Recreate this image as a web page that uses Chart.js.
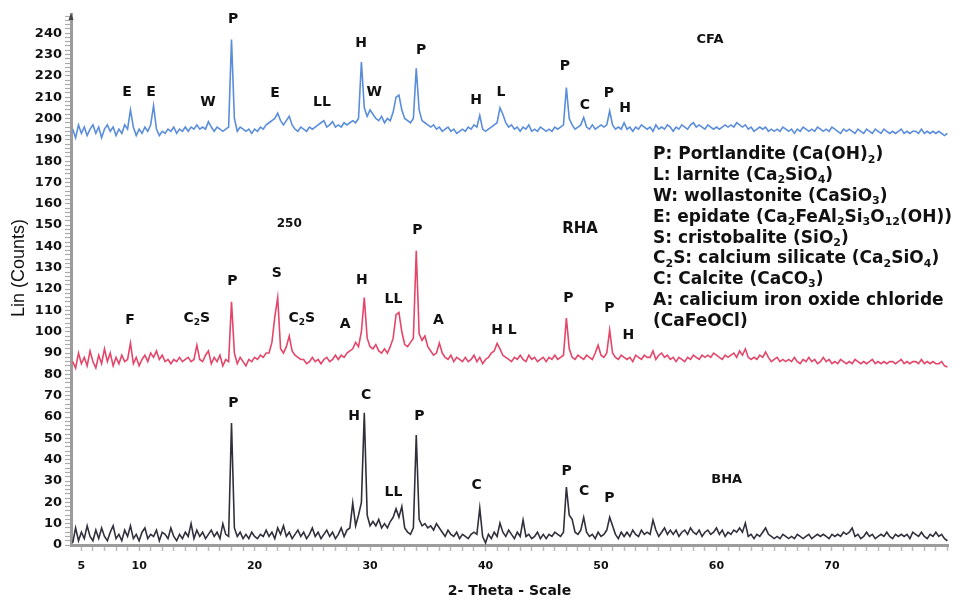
<!DOCTYPE html>
<html>
<head>
<meta charset="utf-8">
<script src="https://cdn.jsdelivr.net/npm/chart.js@4.4.0/dist/chart.umd.min.js"></script>
<style>
  html, body { margin: 0; padding: 0; background: #fff; }
  #wrap { width: 968px; height: 600px; }
</style>
</head>
<body>
<div id="wrap"><canvas id="xrd" width="968" height="600"></canvas></div>
<script>
// scan: 4.25° .. 80° 2-theta, 0.25° step -> one row of 4 readings per degree
const scanStart = 4.25;
const scanStep = 0.25;

const cfaCounts = [
  195, 191, 197, 193,   // 4
  196, 192, 195, 197,   // 5
  193, 196, 191, 195,   // 6
  197, 194, 196, 192,   // 7
  195, 193, 197, 195,   // 8
  204, 196, 192, 195,   // 9
  193, 196, 194, 197,   // 10
  206, 195, 192, 194,   // 11
  193, 195, 194, 196,   // 12
  193, 195, 194, 196,   // 13
  194, 196, 195, 197,   // 14
  195, 196, 195, 198.5, // 15
  196, 194, 196, 195,   // 16
  194, 195, 196, 237,   // 17
  200, 194, 196, 195,   // 18
  194, 195, 193, 195,   // 19
  194, 196, 195, 197,   // 20
  198, 199, 200, 202.5, // 21
  199, 197, 199, 201,   // 22
  197, 195, 194, 196,   // 23
  195, 194, 196, 195,   // 24
  196, 197, 198, 199,   // 25
  196, 197, 198.5, 196, // 26
  197, 196, 198, 197,   // 27
  198, 199, 198, 200,   // 28
  226.5, 205, 201, 204, // 29
  202, 200, 199, 201,   // 30
  198, 200, 199, 203,   // 31
  210, 211, 204, 200,   // 32
  199, 198, 200, 223.5, // 33
  204, 199, 198, 197,   // 34
  196, 197, 195, 196,   // 35
  194, 195, 196, 194,   // 36
  195, 193, 194, 195,   // 37
  194, 196, 195, 197,   // 38
  196, 201.5, 195, 194, // 39
  195, 196, 197, 198,   // 40
  205, 202, 198, 196,   // 41
  197, 195, 196, 194,   // 42
  196, 195, 197, 194,   // 43
  195, 194, 196, 195,   // 44
  194, 195, 194, 196,   // 45
  195, 196, 197, 214.5, // 46
  200, 197, 195, 196,   // 47
  197, 200.5, 196, 195, // 48
  197, 195, 196, 197,   // 49
  196, 197, 203.5, 197, // 50
  195, 196, 195, 198,   // 51
  195, 196, 194, 196,   // 52
  195, 197, 196, 195,   // 53
  196, 194, 197, 195,   // 54
  196, 195, 197, 196,   // 55
  194, 196, 195, 197,   // 56
  196, 195, 197, 198,   // 57
  196, 197, 196, 195,   // 58
  197, 196, 195, 196,   // 59
  195, 196, 197, 196,   // 60
  197, 196, 198, 197,   // 61
  196, 197, 195, 196,   // 62
  194, 195, 196, 195,   // 63
  196, 194, 195, 194,   // 64
  195, 194, 196, 195,   // 65
  194, 195, 193, 195,   // 66
  194, 196, 195, 194,   // 67
  195, 194, 196, 195,   // 68
  194, 195, 194, 196,   // 69
  195, 194, 193, 195,   // 70
  194, 195, 194, 193,   // 71
  195, 194, 193, 195,   // 72
  194, 193, 195, 194,   // 73
  193, 195, 194, 193,   // 74
  194, 193, 194, 195,   // 75
  193, 194, 193, 194,   // 76
  194, 193, 195, 193,   // 77
  194, 193, 194, 193,   // 78
  194, 193, 192, 193    // 79
];

const rhaCounts = [
  86, 83, 90, 85,       // 4
  88, 84, 91, 86,       // 5
  83, 89, 85, 92,       // 6
  86, 90, 84, 88,       // 7
  85, 89, 86, 87,       // 8
  94.7, 85, 88, 84,     // 9
  87, 89, 86, 90,       // 10
  88, 91, 87, 89,       // 11
  86, 87, 85, 87,       // 12
  86, 88, 86, 87,       // 13
  88, 86, 87, 93.7,     // 14
  87, 86, 89, 91,       // 15
  85, 88, 86, 89,       // 16
  84, 87, 86, 114,      // 17
  90, 85, 88, 86,       // 18
  84, 87, 86, 88,       // 19
  87, 89, 88, 90,       // 20
  90, 95, 107, 116,     // 21
  92, 90, 93, 98,       // 22
  91, 89, 88, 87,       // 23
  87, 85, 86, 88,       // 24
  86, 87, 85, 87,       // 25
  88, 86, 87, 89,       // 26
  87, 89, 88, 90,       // 27
  91, 92, 95, 93,       // 28
  100, 116, 97, 93,     // 29
  92, 94, 91, 90,       // 30
  92, 90, 93, 97,       // 31
  108, 109, 100, 94,    // 32
  93, 95, 97, 138,      // 33
  99, 96, 98, 93,       // 34
  91, 89, 90, 94.7,     // 35
  90, 88, 87, 89,       // 36
  86, 88, 87, 86,       // 37
  88, 86, 87, 89,       // 38
  86, 88, 85, 87,       // 39
  88, 90, 91, 94.5,     // 40
  92, 89, 88, 87,       // 41
  86, 88, 87, 89,       // 42
  87, 86, 89, 87,       // 43
  88, 86, 87, 88,       // 44
  86, 88, 87, 89,       // 45
  87, 88, 89, 106.4,    // 46
  92, 88, 87, 89,       // 47
  88, 87, 89, 88,       // 48
  87, 90, 93.7, 89,     // 49
  88, 90, 100.8, 90,    // 50
  88, 87, 89, 88,       // 51
  87, 88, 86, 89,       // 52
  88, 87, 89, 88,       // 53
  88, 91, 87, 89,       // 54
  90, 88, 89, 87,       // 55
  88, 86, 88, 87,       // 56
  86, 88, 87, 89,       // 57
  88, 87, 89, 88,       // 58
  89, 88, 90, 89,       // 59
  88, 87, 89, 88,       // 60
  89, 90, 88, 91,       // 61
  89, 92, 88, 87,       // 62
  88, 87, 89, 88,       // 63
  90.5, 88, 86, 87,     // 64
  88, 86, 87, 86,       // 65
  87, 86, 88, 86,       // 66
  85, 87, 86, 88,       // 67
  86, 87, 85, 86,       // 68
  88, 86, 87, 85,       // 69
  86, 85, 87, 86,       // 70
  85, 86, 85, 87,       // 71
  86, 85, 86, 85,       // 72
  86, 87, 85, 86,       // 73
  85, 86, 85, 86,       // 74
  86, 85, 86, 87,       // 75
  85, 86, 85, 86,       // 76
  86, 85, 87, 85,       // 77
  86, 85, 86, 85,       // 78
  85, 86, 84, 83.5      // 79
];

const bhaCounts = [
  1, 8, 2, 6,           // 4
  3, 9, 4, 2,           // 5
  7, 3, 8, 4,           // 6
  2, 6, 9, 3,           // 7
  5, 2, 7, 4,           // 8
  9, 3, 5, 2,           // 9
  6, 8, 3, 5,           // 10
  4, 7, 2, 6,           // 11
  5, 3, 8, 4,           // 12
  2, 5, 3, 6,           // 13
  4, 10, 3, 7,          // 14
  4, 6, 3, 5,           // 15
  7, 4, 6, 3,           // 16
  10, 5, 4, 57.2,       // 17
  8, 4, 6, 3,           // 18
  5, 3, 6, 4,           // 19
  3, 5, 4, 7,           // 20
  4, 6, 3, 8,           // 21
  5, 9, 4, 6,           // 22
  3, 5, 7, 4,           // 23
  6, 3, 5, 8,           // 24
  4, 6, 3, 5,           // 25
  7, 4, 6, 3,           // 26
  5, 8, 4, 7,           // 27
  8, 19.7, 9, 14,       // 28
  20, 62, 14, 9,        // 29
  11, 9, 12, 8,         // 30
  10, 8, 11, 13,        // 31
  17, 13, 18, 8,        // 32
  6, 5, 8, 51.6,        // 33
  12, 9, 10, 8,         // 34
  9, 7, 10, 8,          // 35
  6, 4, 7, 5,           // 36
  4, 6, 3, 5,           // 37
  4, 3, 5, 6,           // 38
  5, 17.3, 4, 1,        // 39
  5, 3, 6, 4,           // 40
  10.3, 6, 4, 7,        // 41
  5, 3, 6, 4,           // 42
  11.7, 4, 5, 3,        // 43
  4, 6, 3, 5,           // 44
  3, 5, 4, 6,           // 45
  5, 4, 6, 27.2,        // 46
  14, 12, 6, 5,         // 47
  7, 13, 6, 4,          // 48
  5, 3, 6, 4,           // 49
  5, 7, 13, 9,          // 50
  5, 3, 6, 4,           // 51
  6, 4, 7, 5,           // 52
  4, 7, 5, 6,           // 53
  5, 11.7, 7, 4,        // 54
  6, 8, 5, 7,           // 55
  5, 7, 4, 6,           // 56
  7, 5, 8, 6,           // 57
  5, 7, 4, 6,           // 58
  7, 5, 6, 8,           // 59
  5, 7, 4, 6,           // 60
  5, 7, 6, 8,           // 61
  6, 10.3, 4, 5,        // 62
  3, 5, 4, 6,           // 63
  8, 5, 4, 3,           // 64
  4, 3, 5, 4,           // 65
  3, 4, 3, 5,           // 66
  4, 3, 4, 5,           // 67
  3, 4, 5, 4,           // 68
  5, 4, 3, 5,           // 69
  4, 5, 4, 6,           // 70
  5, 6, 8, 4,           // 71
  5, 3, 4, 6,           // 72
  4, 5, 3, 4,           // 73
  5, 4, 6, 4,           // 74
  3, 5, 4, 5,           // 75
  4, 5, 3, 6,           // 76
  5, 4, 6, 4,           // 77
  3, 5, 4, 6,           // 78
  4, 5, 3, 2            // 79
];

const xTickLabels = [5, 10, 20, 30, 40, 50, 60, 70];

// peak letters: [text, 2-theta, counts]  ("_n" = subscript)
const peakLabels = [
  ['P', 18.14, 246.7], ['E', 8.96, 212.4], ['E', 11.04, 212.4], ['W', 15.97, 207.7],
  ['E', 21.78, 212], ['LL', 25.84, 207.7], ['H', 29.22, 235.4], ['W', 30.35, 212.4],
  ['P', 34.42, 232.1], ['H', 39.18, 208.7], ['L', 41.34, 212.4], ['P', 46.88, 224.6],
  ['C', 48.61, 206.3], ['P', 50.69, 212], ['H', 52.08, 204.9],

  ['S', 21.92, 127.4], ['P', 18.08, 123.5], ['P', 34.1, 147.7], ['H', 29.28, 124.3],
  ['LL', 32.02, 115.4], ['F', 9.22, 105.5], ['C_2S', 15.0, 106.3], ['C_2S', 24.09, 106.3],
  ['A', 27.84, 103.6], ['A', 35.91, 105.5], ['H L', 41.6, 100.8], ['P', 47.17, 115.7],
  ['P', 50.72, 111], ['H', 52.36, 98.5],

  ['P', 18.16, 66.4], ['C', 29.65, 70.3], ['H', 28.61, 60.5], ['P', 34.27, 60.2],
  ['LL', 32.02, 24.5], ['C', 39.23, 28.1], ['P', 47.03, 34.4], ['C', 48.53, 25],
  ['P', 50.72, 21.9]
];

// sample names: [text, 2-theta, counts, font px]
const sampleNames = [
  ['CFA', 59.44, 236.8, 13], ['RHA', 48.18, 148, 15], ['BHA', 60.88, 30.5, 13], ['250', 23.0, 150.5, 12]
];

const phaseKey = [
  'P: Portlandite (Ca(OH)_2)',
  'L: larnite (Ca_2SiO_4)',
  'W: wollastonite (CaSiO_3)',
  'E: epidate (Ca_2FeAl_2Si_3O_12(OH))',
  'S: cristobalite (SiO_2)',
  'C_2S: calcium silicate (Ca_2SiO_4)',
  'C: Calcite (CaCO_3)',
  'A: calicium iron oxide chloride',
  '(CaFeOCl)'
];

const toPoints = arr => arr.map((v, i) => ({ x: scanStart + i * scanStep, y: v }));

function drawRich(ctx, text, x, y, size, align) {
  const parts = text.split(/_(\d+)/);
  const big = `bold ${size}px "DejaVu Sans"`;
  const small = `bold ${Math.round(size * 0.62)}px "DejaVu Sans"`;
  let w = 0;
  parts.forEach((p, i) => { ctx.font = i % 2 ? small : big; w += ctx.measureText(p).width; });
  let cx = align === 'center' ? x - w / 2 : x;
  parts.forEach((p, i) => {
    ctx.font = i % 2 ? small : big;
    ctx.fillText(p, cx, y + (i % 2 ? size * 0.28 : 0));
    cx += ctx.measureText(p).width;
  });
}

const annotate = {
  id: 'annotate',
  afterDraw(chart) {
    const { ctx, scales: { x, y }, chartArea } = chart;
    ctx.save();
    ctx.fillStyle = '#111';
    ctx.textBaseline = 'middle';
    ctx.textAlign = 'left';

    peakLabels.forEach(([t, tx, ty]) => {
      drawRich(ctx, t, x.getPixelForValue(tx), y.getPixelForValue(ty), 14, 'center');
    });
    sampleNames.forEach(([t, tx, ty, s]) => {
      drawRich(ctx, t, x.getPixelForValue(tx), y.getPixelForValue(ty), s, 'center');
    });

    // phase key
    phaseKey.forEach((t, i) => drawRich(ctx, t, 653, 155 + i * 20.8, 17, 'left'));

    // arrow head on top of y axis
    ctx.fillStyle = '#444';
    ctx.beginPath();
    ctx.moveTo(chartArea.left - 2.5, chartArea.top + 6);
    ctx.lineTo(chartArea.left, chartArea.top - 1);
    ctx.lineTo(chartArea.left + 2.5, chartArea.top + 6);
    ctx.closePath();
    ctx.fill();

    // y axis title
    ctx.fillStyle = '#111';
    ctx.translate(19, 268);
    ctx.rotate(-Math.PI / 2);
    ctx.textAlign = 'center';
    ctx.font = '18px "Liberation Sans"';
    ctx.fillText('Lin (Counts)', 0, 0);
    ctx.restore();
  }
};

const lineStyle = { borderWidth: 1.6, pointRadius: 0, tension: 0, fill: false };

new Chart(document.getElementById('xrd'), {
  type: 'line',
  data: {
    datasets: [
      { label: 'CFA', data: toPoints(cfaCounts), borderColor: '#5a8ddb', ...lineStyle },
      { label: 'RHA', data: toPoints(rhaCounts), borderColor: '#e4466a', ...lineStyle },
      { label: 'BHA', data: toPoints(bhaCounts), borderColor: '#30303c', ...lineStyle }
    ]
  },
  options: {
    responsive: false,
    animation: false,
    devicePixelRatio: 1,
    layout: { padding: { top: 14, right: 20, left: 0, bottom: 0 } },
    plugins: { legend: { display: false }, tooltip: { enabled: false } },
    scales: {
      x: {
        type: 'linear',
        min: 4.1,
        max: 80.05,
        afterBuildTicks: s => {
          const t = [];
          for (let v = 5; v <= 80; v++) t.push({ value: v });
          s.ticks = t;
        },
        afterFit: s => { s.height = 55; },
        border: { display: true, color: '#9c9c9c', width: 3 },
        grid: { drawOnChartArea: false, drawTicks: true, tickLength: 6, tickColor: '#bbbbbb', tickWidth: 1.5 },
        ticks: {
          autoSkip: false,
          maxRotation: 0,
          padding: 9,
          color: '#111',
          font: { family: 'DejaVu Sans', size: 11, weight: 'bold' },
          callback: v => xTickLabels.includes(v) ? String(v) : ''
        },
        title: {
          display: true,
          text: '2- Theta - Scale',
          color: '#111',
          padding: { top: 0, bottom: 0 },
          font: { family: 'DejaVu Sans', size: 14, weight: 'bold' }
        }
      },
      y: {
        min: 0,
        max: 249,
        afterBuildTicks: s => {
          const t = [];
          for (let v = 0; v <= 248; v += 2) t.push({ value: v });
          s.ticks = t;
        },
        afterFit: s => { s.width = 71; },
        border: { display: true, color: '#9c9c9c', width: 3 },
        grid: { drawOnChartArea: false, drawTicks: true, tickLength: 6, tickColor: '#aaaaaa', tickWidth: 1.2 },
        ticks: {
          autoSkip: false,
          padding: 3,
          color: '#111',
          font: { family: 'DejaVu Sans', size: 13, weight: 'bold' },
          callback: v => v % 10 === 0 ? String(v) : ''
        }
      }
    }
  },
  plugins: [annotate]
});
</script>
</body>
</html>
